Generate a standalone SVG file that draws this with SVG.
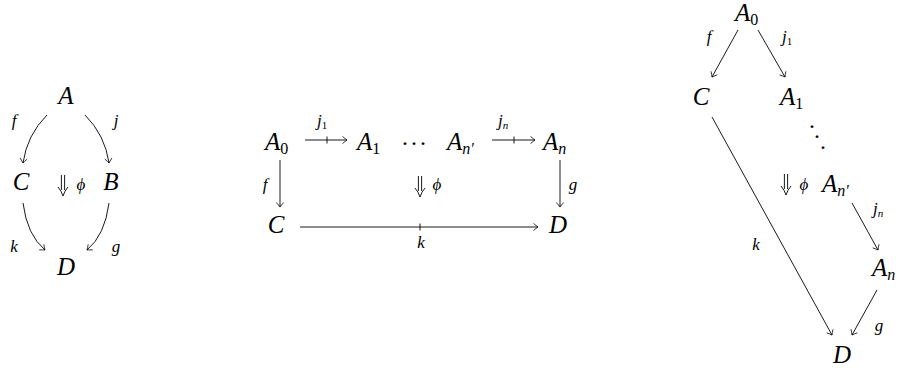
<svg xmlns="http://www.w3.org/2000/svg" width="901" height="370" viewBox="0 0 901 370">
<style>
.e{fill:none;stroke:#000;stroke-width:0.9}
.h{fill:none;stroke:#000;stroke-width:0.8}
</style>
<g id="d1-A"><text x="66" y="104" font-family="Liberation Serif" font-style="italic" font-size="25" text-anchor="middle">A</text></g>
<g id="d1-C"><text x="21" y="190" font-family="Liberation Serif" font-style="italic" font-size="25" text-anchor="middle">C</text></g>
<g id="d1-B"><text x="111" y="190" font-family="Liberation Serif" font-style="italic" font-size="25" text-anchor="middle">B</text></g>
<g id="d1-D"><text x="66" y="275" font-family="Liberation Serif" font-style="italic" font-size="25" text-anchor="middle">D</text></g>
<g id="d1-phi"><path class="e" d="M61.4,175 V190 M64.6,175 V190 M58,187 Q61.5,191 63,196 Q64.5,191 68,187"/><text x="81" y="190" font-family="Liberation Serif" font-style="italic" font-size="17" text-anchor="middle">ϕ</text></g>
<g id="d1-connectors">
<path class="e" d="M47,115 Q27,135 23,163"/>
<path class="h" d="M20.1,158 Q22.2,161.4 23,163 Q24.2,161.7 27.2,159.1"/>
<path class="e" d="M85,115 Q105,135 109,163"/>
<path class="h" d="M111.9,158 Q109.8,161.4 109,163 Q107.8,161.7 104.8,159.1"/>
<path class="e" d="M23,203 Q27,235 45,250"/>
<path class="h" d="M39.2,249.9 Q43.2,249.8 45,250 Q44.5,248.3 43.8,244.4"/>
<path class="e" d="M109,203 Q105,235 87,250"/>
<path class="h" d="M92.8,249.9 Q88.8,249.8 87,250 Q87.5,248.3 88.2,244.4"/>
<text x="14" y="126" font-family="Liberation Serif" font-style="italic" font-size="17" text-anchor="middle">f</text>
<text x="116" y="126" font-family="Liberation Serif" font-style="italic" font-size="17" text-anchor="middle">j</text>
<text x="14" y="252" font-family="Liberation Serif" font-style="italic" font-size="17" text-anchor="middle">k</text>
<text x="116" y="252" font-family="Liberation Serif" font-style="italic" font-size="17" text-anchor="middle">g</text>
</g>

<g id="d2-A0"><text x="265" y="150" font-family="Liberation Serif" font-style="italic" font-size="25">A<tspan font-style="normal" font-size="16" dy="4">0</tspan></text></g>
<g id="d2-A1"><text x="357" y="150" font-family="Liberation Serif" font-style="italic" font-size="25">A<tspan font-style="normal" font-size="16" dy="4">1</tspan></text></g>
<g id="d2-dots"><text x="405 414 423" y="145" font-family="Liberation Serif" font-size="24" text-anchor="middle">...</text></g>
<g id="d2-An1"><text x="447" y="150" font-family="Liberation Serif" font-style="italic" font-size="25">A<tspan font-size="16" dy="4">n'</tspan></text></g>
<g id="d2-An"><text x="543" y="150" font-family="Liberation Serif" font-style="italic" font-size="25">A<tspan font-size="16" dy="4">n</tspan></text></g>
<g id="d2-C"><text x="276" y="233" font-family="Liberation Serif" font-style="italic" font-size="25" text-anchor="middle">C</text></g>
<g id="d2-D"><text x="558" y="233" font-family="Liberation Serif" font-style="italic" font-size="25" text-anchor="middle">D</text></g>
<g id="d2-phi"><path class="e" d="M418.4,176 V191 M421.6,176 V191 M415,188 Q418.5,192 420,197 Q421.5,192 425,188"/><text x="437" y="190" font-family="Liberation Serif" font-style="italic" font-size="17" text-anchor="middle">ϕ</text></g>
<g id="d2-connectors">
<path class="e" d="M305,140 H347 M327,136.5 V143.5"/>
<path class="h" d="M342.5,136.4 Q345.5,139 347,140 Q345.5,141 342.5,143.6"/>
<path class="e" d="M492,140 H535 M514,136.5 V143.5"/>
<path class="h" d="M530.5,136.4 Q533.5,139 535,140 Q533.5,141 530.5,143.6"/>
<path class="e" d="M280,160 V207"/>
<path class="h" d="M276.4,202.5 Q279,205.5 280,207 Q281,205.5 283.6,202.5"/>
<path class="e" d="M560,160 V207"/>
<path class="h" d="M556.4,202.5 Q559,205.5 560,207 Q561,205.5 563.6,202.5"/>
<path class="e" d="M300,227 H538 M420,223.5 V230.5"/>
<path class="h" d="M533.5,223.4 Q536.5,226 538,227 Q536.5,228 533.5,230.6"/>
<text x="317" y="126" font-family="Liberation Serif" font-style="italic" font-size="17">j<tspan font-style="normal" font-size="11" dy="3">1</tspan></text>
<text x="498" y="126" font-family="Liberation Serif" font-style="italic" font-size="17">j<tspan font-size="11" dy="3">n</tspan></text>
<text x="265" y="190" font-family="Liberation Serif" font-style="italic" font-size="17" text-anchor="middle">f</text>
<text x="573" y="190" font-family="Liberation Serif" font-style="italic" font-size="17" text-anchor="middle">g</text>
<text x="421" y="248" font-family="Liberation Serif" font-style="italic" font-size="17" text-anchor="middle">k</text>
</g>

<g id="d3-A0"><text x="735" y="21" font-family="Liberation Serif" font-style="italic" font-size="25">A<tspan font-style="normal" font-size="16" dy="4">0</tspan></text></g>
<g id="d3-C"><text x="701" y="105" font-family="Liberation Serif" font-style="italic" font-size="25" text-anchor="middle">C</text></g>
<g id="d3-A1"><text x="780" y="105" font-family="Liberation Serif" font-style="italic" font-size="25">A<tspan font-style="normal" font-size="16" dy="4">1</tspan></text></g>
<g id="d3-dots"><text x="812 817 823" y="128 138 149" font-family="Liberation Serif" font-size="24" text-anchor="middle">...</text></g>
<g id="d3-phi"><path class="e" d="M784.4,174 V189 M787.6,174 V189 M781,186 Q784.5,190 786,195 Q787.5,190 791,186"/><text x="804" y="190" font-family="Liberation Serif" font-style="italic" font-size="17" text-anchor="middle">ϕ</text></g>
<g id="d3-An1"><text x="822" y="192" font-family="Liberation Serif" font-style="italic" font-size="25">A<tspan font-size="16" dy="4">n'</tspan></text></g>
<g id="d3-An"><text x="872" y="276" font-family="Liberation Serif" font-style="italic" font-size="25">A<tspan font-size="16" dy="4">n</tspan></text></g>
<g id="d3-D"><text x="842" y="363" font-family="Liberation Serif" font-style="italic" font-size="25" text-anchor="middle">D</text></g>
<g id="d3-connectors">
<path class="e" d="M738,30 L712,77"/>
<path class="h" d="M711,71.3 Q711.9,75.2 712,77 Q713.6,76.2 717.3,74.8"/>
<path class="e" d="M758,30 L785,77"/>
<path class="h" d="M779.6,74.9 Q783.4,76.2 785,77 Q785.1,75.2 785.9,71.3"/>
<path class="e" d="M712,117 L832,335"/>
<path class="h" d="M826.7,332.8 Q830.4,334.2 832,335 Q832.2,333.2 833,329.3"/>
<path class="e" d="M852,203 L878,250"/>
<path class="h" d="M872.7,247.8 Q876.4,249.2 878,250 Q878.2,248.2 879,244.3"/>
<path class="e" d="M877,290 L852,335"/>
<path class="h" d="M851,329.3 Q851.9,333.2 852,335 Q853.6,334.2 857.3,332.8"/>
<text x="709" y="42" font-family="Liberation Serif" font-style="italic" font-size="17" text-anchor="middle">f</text>
<text x="782" y="42" font-family="Liberation Serif" font-style="italic" font-size="17">j<tspan font-style="normal" font-size="11" dy="3">1</tspan></text>
<text x="873" y="214" font-family="Liberation Serif" font-style="italic" font-size="17">j<tspan font-size="11" dy="3">n</tspan></text>
<text x="756" y="250" font-family="Liberation Serif" font-style="italic" font-size="17" text-anchor="middle">k</text>
<text x="879" y="331" font-family="Liberation Serif" font-style="italic" font-size="17" text-anchor="middle">g</text>
</g>
</svg>
